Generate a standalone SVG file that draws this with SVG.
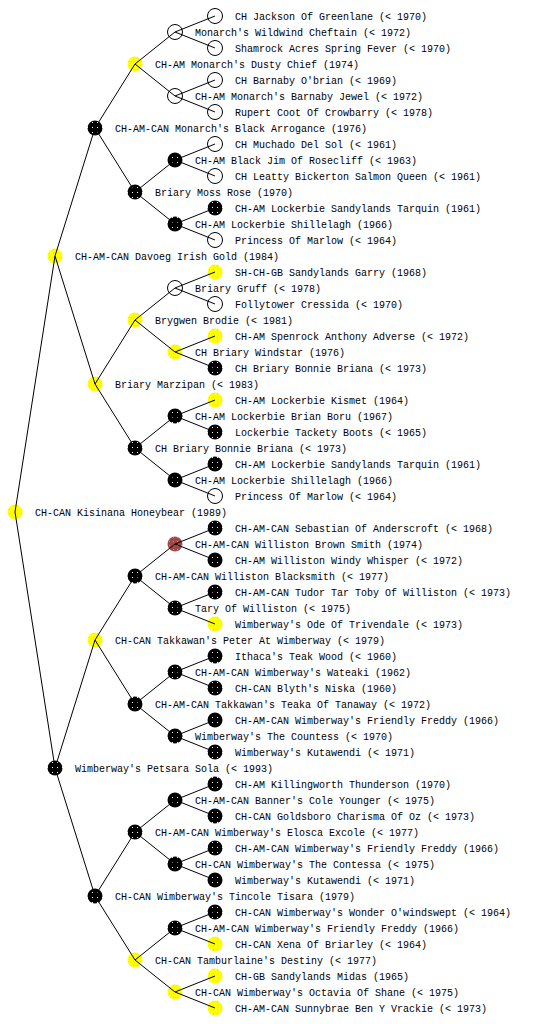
<svg xmlns="http://www.w3.org/2000/svg" width="560" height="1024" viewBox="0 0 560 1024">
<defs>
<pattern id="pB" width="5" height="5" patternUnits="userSpaceOnUse"><rect width="5" height="5" fill="#000"/><rect x="2" y="2" width="1" height="1" fill="#fff"/></pattern>
<pattern id="pY" width="4" height="4" patternUnits="userSpaceOnUse"><rect width="4" height="4" fill="#ffff00"/><rect x="1" y="1" width="1" height="1" fill="#e8e800"/></pattern>
<pattern id="pR" width="4" height="4" patternUnits="userSpaceOnUse"><rect width="4" height="4" fill="#a04848"/><rect x="1" y="1" width="1" height="1" fill="#d09090"/></pattern>
</defs>
<style>
text{font-family:"Liberation Mono","DejaVu Sans Mono",monospace;font-size:10px;fill:#000}
.w{fill:none;stroke:#000;stroke-width:1}
.y{fill:url(#pY)}
.b{fill:url(#pB)}
.r{fill:url(#pR)}
#edges line{stroke:#000;stroke-width:1}
</style>
<rect width="560" height="1024" fill="#fff"/>
<g id="nodes">
<g id="n1"><circle class="y" cx="15" cy="512" r="7.5"/><text x="35" y="516">CH-CAN Kisinana Honeybear (1989)</text></g>
<g id="n2"><circle class="y" cx="55" cy="256" r="7.5"/><text x="75" y="260">CH-AM-CAN Davoeg Irish Gold (1984)</text></g>
<g id="n3"><circle class="b" cx="55" cy="768" r="7.5"/><text x="75" y="772">Wimberway's Petsara Sola (&lt; 1993)</text></g>
<g id="n4"><circle class="b" cx="95" cy="128" r="7.5"/><text x="115" y="132">CH-AM-CAN Monarch's Black Arrogance (1976)</text></g>
<g id="n5"><circle class="y" cx="95" cy="384" r="7.5"/><text x="115" y="388">Briary Marzipan (&lt; 1983)</text></g>
<g id="n6"><circle class="y" cx="95" cy="640" r="7.5"/><text x="115" y="644">CH-CAN Takkawan's Peter At Wimberway (&lt; 1979)</text></g>
<g id="n7"><circle class="b" cx="95" cy="896" r="7.5"/><text x="115" y="900">CH-CAN Wimberway's Tincole Tisara (1979)</text></g>
<g id="n8"><circle class="y" cx="135" cy="64" r="7.5"/><text x="155" y="68">CH-AM Monarch's Dusty Chief (1974)</text></g>
<g id="n9"><circle class="b" cx="135" cy="192" r="7.5"/><text x="155" y="196">Briary Moss Rose (1970)</text></g>
<g id="n10"><circle class="y" cx="135" cy="320" r="7.5"/><text x="155" y="324">Brygwen Brodie (&lt; 1981)</text></g>
<g id="n11"><circle class="b" cx="135" cy="448" r="7.5"/><text x="155" y="452">CH Briary Bonnie Briana (&lt; 1973)</text></g>
<g id="n12"><circle class="b" cx="135" cy="576" r="7.5"/><text x="155" y="580">CH-AM-CAN Williston Blacksmith (&lt; 1977)</text></g>
<g id="n13"><circle class="b" cx="135" cy="704" r="7.5"/><text x="155" y="708">CH-AM-CAN Takkawan's Teaka Of Tanaway (&lt; 1972)</text></g>
<g id="n14"><circle class="b" cx="135" cy="832" r="7.5"/><text x="155" y="836">CH-AM-CAN Wimberway's Elosca Excole (&lt; 1977)</text></g>
<g id="n15"><circle class="y" cx="135" cy="960" r="7.5"/><text x="155" y="964">CH-CAN Tamburlaine's Destiny (&lt; 1977)</text></g>
<g id="n16"><circle class="w" cx="175" cy="32" r="7.5"/><text x="195" y="36">Monarch's Wildwind Cheftain (&lt; 1972)</text></g>
<g id="n17"><circle class="w" cx="175" cy="96" r="7.5"/><text x="195" y="100">CH-AM Monarch's Barnaby Jewel (&lt; 1972)</text></g>
<g id="n18"><circle class="b" cx="175" cy="160" r="7.5"/><text x="195" y="164">CH-AM Black Jim Of Rosecliff (&lt; 1963)</text></g>
<g id="n19"><circle class="b" cx="175" cy="224" r="7.5"/><text x="195" y="228">CH-AM Lockerbie Shillelagh (1966)</text></g>
<g id="n20"><circle class="w" cx="175" cy="288" r="7.5"/><text x="195" y="292">Briary Gruff (&lt; 1978)</text></g>
<g id="n21"><circle class="y" cx="175" cy="352" r="7.5"/><text x="195" y="356">CH Briary Windstar (1976)</text></g>
<g id="n22"><circle class="b" cx="175" cy="416" r="7.5"/><text x="195" y="420">CH-AM Lockerbie Brian Boru (1967)</text></g>
<g id="n23"><circle class="b" cx="175" cy="480" r="7.5"/><text x="195" y="484">CH-AM Lockerbie Shillelagh (1966)</text></g>
<g id="n24"><circle class="r" cx="175" cy="544" r="7.5"/><text x="195" y="548">CH-AM-CAN Williston Brown Smith (1974)</text></g>
<g id="n25"><circle class="b" cx="175" cy="608" r="7.5"/><text x="195" y="612">Tary Of Williston (&lt; 1975)</text></g>
<g id="n26"><circle class="b" cx="175" cy="672" r="7.5"/><text x="195" y="676">CH-AM-CAN Wimberway's Wateaki (1962)</text></g>
<g id="n27"><circle class="b" cx="175" cy="736" r="7.5"/><text x="195" y="740">Wimberway's The Countess (&lt; 1970)</text></g>
<g id="n28"><circle class="b" cx="175" cy="800" r="7.5"/><text x="195" y="804">CH-AM-CAN Banner's Cole Younger (&lt; 1975)</text></g>
<g id="n29"><circle class="b" cx="175" cy="864" r="7.5"/><text x="195" y="868">CH-CAN Wimberway's The Contessa (&lt; 1975)</text></g>
<g id="n30"><circle class="b" cx="175" cy="928" r="7.5"/><text x="195" y="932">CH-AM-CAN Wimberway's Friendly Freddy (1966)</text></g>
<g id="n31"><circle class="y" cx="175" cy="992" r="7.5"/><text x="195" y="996">CH-CAN Wimberway's Octavia Of Shane (&lt; 1975)</text></g>
<g id="n32"><circle class="w" cx="215" cy="16" r="7.5"/><text x="235" y="20">CH Jackson Of Greenlane (&lt; 1970)</text></g>
<g id="n33"><circle class="w" cx="215" cy="48" r="7.5"/><text x="235" y="52">Shamrock Acres Spring Fever (&lt; 1970)</text></g>
<g id="n34"><circle class="w" cx="215" cy="80" r="7.5"/><text x="235" y="84">CH Barnaby O'brian (&lt; 1969)</text></g>
<g id="n35"><circle class="w" cx="215" cy="112" r="7.5"/><text x="235" y="116">Rupert Coot Of Crowbarry (&lt; 1978)</text></g>
<g id="n36"><circle class="w" cx="215" cy="144" r="7.5"/><text x="235" y="148">CH Muchado Del Sol (&lt; 1961)</text></g>
<g id="n37"><circle class="w" cx="215" cy="176" r="7.5"/><text x="235" y="180">CH Leatty Bickerton Salmon Queen (&lt; 1961)</text></g>
<g id="n38"><circle class="b" cx="215" cy="208" r="7.5"/><text x="235" y="212">CH-AM Lockerbie Sandylands Tarquin (1961)</text></g>
<g id="n39"><circle class="w" cx="215" cy="240" r="7.5"/><text x="235" y="244">Princess Of Marlow (&lt; 1964)</text></g>
<g id="n40"><circle class="y" cx="215" cy="272" r="7.5"/><text x="235" y="276">SH-CH-GB Sandylands Garry (1968)</text></g>
<g id="n41"><circle class="w" cx="215" cy="304" r="7.5"/><text x="235" y="308">Follytower Cressida (&lt; 1970)</text></g>
<g id="n42"><circle class="y" cx="215" cy="336" r="7.5"/><text x="235" y="340">CH-AM Spenrock Anthony Adverse (&lt; 1972)</text></g>
<g id="n43"><circle class="b" cx="215" cy="368" r="7.5"/><text x="235" y="372">CH Briary Bonnie Briana (&lt; 1973)</text></g>
<g id="n44"><circle class="y" cx="215" cy="400" r="7.5"/><text x="235" y="404">CH-AM Lockerbie Kismet (1964)</text></g>
<g id="n45"><circle class="b" cx="215" cy="432" r="7.5"/><text x="235" y="436">Lockerbie Tackety Boots (&lt; 1965)</text></g>
<g id="n46"><circle class="b" cx="215" cy="464" r="7.5"/><text x="235" y="468">CH-AM Lockerbie Sandylands Tarquin (1961)</text></g>
<g id="n47"><circle class="w" cx="215" cy="496" r="7.5"/><text x="235" y="500">Princess Of Marlow (&lt; 1964)</text></g>
<g id="n48"><circle class="b" cx="215" cy="528" r="7.5"/><text x="235" y="532">CH-AM-CAN Sebastian Of Anderscroft (&lt; 1968)</text></g>
<g id="n49"><circle class="b" cx="215" cy="560" r="7.5"/><text x="235" y="564">CH-AM Williston Windy Whisper (&lt; 1972)</text></g>
<g id="n50"><circle class="b" cx="215" cy="592" r="7.5"/><text x="235" y="596">CH-AM-CAN Tudor Tar Toby Of Williston (&lt; 1973)</text></g>
<g id="n51"><circle class="y" cx="215" cy="624" r="7.5"/><text x="235" y="628">Wimberway's Ode Of Trivendale (&lt; 1973)</text></g>
<g id="n52"><circle class="b" cx="215" cy="656" r="7.5"/><text x="235" y="660">Ithaca's Teak Wood (&lt; 1960)</text></g>
<g id="n53"><circle class="b" cx="215" cy="688" r="7.5"/><text x="235" y="692">CH-CAN Blyth's Niska (1960)</text></g>
<g id="n54"><circle class="b" cx="215" cy="720" r="7.5"/><text x="235" y="724">CH-AM-CAN Wimberway's Friendly Freddy (1966)</text></g>
<g id="n55"><circle class="b" cx="215" cy="752" r="7.5"/><text x="235" y="756">Wimberway's Kutawendi (&lt; 1971)</text></g>
<g id="n56"><circle class="b" cx="215" cy="784" r="7.5"/><text x="235" y="788">CH-AM Killingworth Thunderson (1970)</text></g>
<g id="n57"><circle class="b" cx="215" cy="816" r="7.5"/><text x="235" y="820">CH-CAN Goldsboro Charisma Of Oz (&lt; 1973)</text></g>
<g id="n58"><circle class="b" cx="215" cy="848" r="7.5"/><text x="235" y="852">CH-AM-CAN Wimberway's Friendly Freddy (1966)</text></g>
<g id="n59"><circle class="b" cx="215" cy="880" r="7.5"/><text x="235" y="884">Wimberway's Kutawendi (&lt; 1971)</text></g>
<g id="n60"><circle class="b" cx="215" cy="912" r="7.5"/><text x="235" y="916">CH-CAN Wimberway's Wonder O'windswept (&lt; 1964)</text></g>
<g id="n61"><circle class="y" cx="215" cy="944" r="7.5"/><text x="235" y="948">CH-CAN Xena Of Briarley (&lt; 1964)</text></g>
<g id="n62"><circle class="y" cx="215" cy="976" r="7.5"/><text x="235" y="980">CH-GB Sandylands Midas (1965)</text></g>
<g id="n63"><circle class="y" cx="215" cy="1008" r="7.5"/><text x="235" y="1012">CH-AM-CAN Sunnybrae Ben Y Vrackie (&lt; 1973)</text></g>
</g>
<g id="edges">
<line x1="15" y1="512" x2="55" y2="256"/><line x1="15" y1="512" x2="55" y2="768"/>
<line x1="55" y1="256" x2="95" y2="128"/><line x1="55" y1="256" x2="95" y2="384"/>
<line x1="55" y1="768" x2="95" y2="640"/><line x1="55" y1="768" x2="95" y2="896"/>
<line x1="95" y1="128" x2="135" y2="64"/><line x1="95" y1="128" x2="135" y2="192"/>
<line x1="95" y1="384" x2="135" y2="320"/><line x1="95" y1="384" x2="135" y2="448"/>
<line x1="95" y1="640" x2="135" y2="576"/><line x1="95" y1="640" x2="135" y2="704"/>
<line x1="95" y1="896" x2="135" y2="832"/><line x1="95" y1="896" x2="135" y2="960"/>
<line x1="135" y1="64" x2="175" y2="32"/><line x1="135" y1="64" x2="175" y2="96"/>
<line x1="135" y1="192" x2="175" y2="160"/><line x1="135" y1="192" x2="175" y2="224"/>
<line x1="135" y1="320" x2="175" y2="288"/><line x1="135" y1="320" x2="175" y2="352"/>
<line x1="135" y1="448" x2="175" y2="416"/><line x1="135" y1="448" x2="175" y2="480"/>
<line x1="135" y1="576" x2="175" y2="544"/><line x1="135" y1="576" x2="175" y2="608"/>
<line x1="135" y1="704" x2="175" y2="672"/><line x1="135" y1="704" x2="175" y2="736"/>
<line x1="135" y1="832" x2="175" y2="800"/><line x1="135" y1="832" x2="175" y2="864"/>
<line x1="135" y1="960" x2="175" y2="928"/><line x1="135" y1="960" x2="175" y2="992"/>
<line x1="175" y1="32" x2="215" y2="16"/><line x1="175" y1="32" x2="215" y2="48"/>
<line x1="175" y1="96" x2="215" y2="80"/><line x1="175" y1="96" x2="215" y2="112"/>
<line x1="175" y1="160" x2="215" y2="144"/><line x1="175" y1="160" x2="215" y2="176"/>
<line x1="175" y1="224" x2="215" y2="208"/><line x1="175" y1="224" x2="215" y2="240"/>
<line x1="175" y1="288" x2="215" y2="272"/><line x1="175" y1="288" x2="215" y2="304"/>
<line x1="175" y1="352" x2="215" y2="336"/><line x1="175" y1="352" x2="215" y2="368"/>
<line x1="175" y1="416" x2="215" y2="400"/><line x1="175" y1="416" x2="215" y2="432"/>
<line x1="175" y1="480" x2="215" y2="464"/><line x1="175" y1="480" x2="215" y2="496"/>
<line x1="175" y1="544" x2="215" y2="528"/><line x1="175" y1="544" x2="215" y2="560"/>
<line x1="175" y1="608" x2="215" y2="592"/><line x1="175" y1="608" x2="215" y2="624"/>
<line x1="175" y1="672" x2="215" y2="656"/><line x1="175" y1="672" x2="215" y2="688"/>
<line x1="175" y1="736" x2="215" y2="720"/><line x1="175" y1="736" x2="215" y2="752"/>
<line x1="175" y1="800" x2="215" y2="784"/><line x1="175" y1="800" x2="215" y2="816"/>
<line x1="175" y1="864" x2="215" y2="848"/><line x1="175" y1="864" x2="215" y2="880"/>
<line x1="175" y1="928" x2="215" y2="912"/><line x1="175" y1="928" x2="215" y2="944"/>
<line x1="175" y1="992" x2="215" y2="976"/><line x1="175" y1="992" x2="215" y2="1008"/>
</g>
</svg>
